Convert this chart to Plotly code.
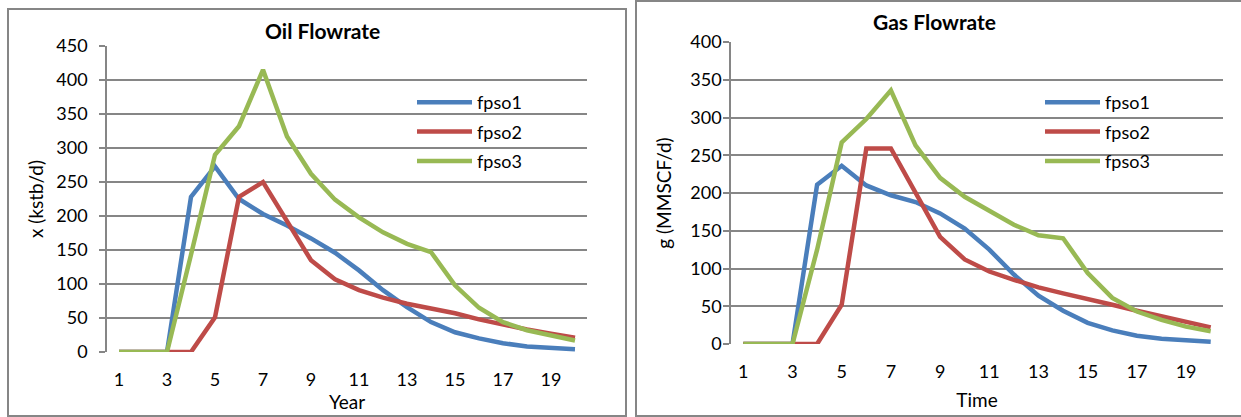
import plotly.graph_objects as go

W, H = 1241, 417

periods = list(range(1, 21))
tick_vals = [1, 3, 5, 7, 9, 11, 13, 15, 17, 19]
series_names = ["fpso1", "fpso2", "fpso3"]
series_colors = ["#4A7EBB", "#BE4B48", "#98B954"]

oil_fpso1 = [0, 0, 0, 228, 273, 225, 203, 186, 167, 146, 120, 91, 66, 44, 29, 20, 13, 8, 6, 4]
oil_fpso2 = [0, 0, 0, 0, 51, 228, 250, 193, 135, 107, 91, 80, 71, 64, 57, 48, 40, 33, 27, 21]
oil_fpso3 = [0, 0, 0, 143, 290, 332, 415, 317, 262, 224, 198, 176, 159, 147, 98, 65, 44, 32, 24, 17]

gas_fpso1 = [0, 0, 0, 211, 236, 210, 197, 188, 173, 153, 125, 92, 64, 44, 28, 18, 11, 7, 5, 3]
gas_fpso2 = [0, 0, 0, 0, 52, 259, 259, 200, 142, 112, 96, 85, 75, 67, 60, 52, 44, 37, 30, 22]
gas_fpso3 = [0, 0, 0, 125, 267, 298, 336, 263, 220, 195, 177, 158, 144, 140, 94, 61, 43, 32, 23, 17]

oil_series = [oil_fpso1, oil_fpso2, oil_fpso3]
gas_series = [gas_fpso1, gas_fpso2, gas_fpso3]

FONT = "Lato, 'Open Sans', sans-serif"
GRID = "#868686"

fig = go.Figure()

for name, col, ys in zip(series_names, series_colors, oil_series):
    fig.add_trace(go.Scatter(x=periods, y=ys, name=name, mode="lines",
                             line=dict(color=col, width=4.5), xaxis="x", yaxis="y",
                             legend="legend", legendgroup="o" + name))
for name, col, ys in zip(series_names, series_colors, gas_series):
    fig.add_trace(go.Scatter(x=periods, y=ys, name=name, mode="lines",
                             line=dict(color=col, width=4.5), xaxis="x2", yaxis="y2",
                             legend="legend2", legendgroup="g" + name))

def px_x(p):
    return p / W

def px_y(p):
    return 1 - p / H

tickfont = dict(family=FONT, size=18, color="#000")
titlefont = dict(family=FONT, size=19, color="#000")

xcommon = dict(range=[0.5, 20.5], tickvals=tick_vals, showgrid=False, zeroline=False,
               showline=False, ticks="", tickfont=tickfont,
               ticklabelstandoff=15, fixedrange=True)
ycommon = dict(showgrid=True, gridcolor=GRID, gridwidth=1.6, zeroline=False,
               showline=True, linecolor=GRID, linewidth=1.6, ticks="outside",
               ticklen=6, tickcolor=GRID, tickwidth=1.6, tickfont=tickfont,
               fixedrange=True)

legend_common = dict(xanchor="left", yanchor="top", font=dict(family=FONT, size=18, color="#000"),
                     tracegroupgap=3, itemwidth=55, bgcolor="rgba(0,0,0,0)")

fig.update_layout(
    width=W, height=H, margin=dict(l=0, r=0, t=0, b=0, autoexpand=False),
    paper_bgcolor="white", plot_bgcolor="white",
    font=dict(family=FONT, color="#000"),
    xaxis=dict(domain=[px_x(107), px_x(587)], anchor="y",
               title=dict(text="Year", standoff=3, font=titlefont), **xcommon),
    yaxis=dict(domain=[px_y(352), px_y(46)], anchor="x", range=[0, 450], dtick=50,
               ticklabelstandoff=8,
               title=dict(text="x (kstb/d)", standoff=8, font=titlefont), **ycommon),
    xaxis2=dict(domain=[px_x(731), px_x(1223)], anchor="y2",
                title=dict(text="Time", standoff=12, font=titlefont), **xcommon),
    yaxis2=dict(domain=[px_y(344), px_y(42)], anchor="x2", range=[0, 400], dtick=50,
                ticklabelstandoff=-2,
                title=dict(text="g (MMSCF/d)", standoff=14, font=titlefont), **ycommon),
    legend=dict(x=px_x(412), y=px_y(84), **legend_common),
    legend2=dict(x=px_x(1040), y=px_y(84), **legend_common),
    showlegend=True,
    annotations=[
        dict(text="<b>Oil Flowrate</b>", x=px_x(322), y=px_y(31), xref="paper", yref="paper",
             xanchor="center", yanchor="middle", showarrow=False,
             font=dict(family=FONT, size=21, color="#000")),
        dict(text="<b>Gas Flowrate</b>", x=px_x(934), y=px_y(21), xref="paper", yref="paper",
             xanchor="center", yanchor="middle", showarrow=False,
             font=dict(family=FONT, size=21, color="#000")),
    ],
    shapes=[
        dict(type="rect", xref="paper", yref="paper", x0=px_x(8), x1=px_x(626),
             y0=px_y(416), y1=px_y(9), line=dict(color=GRID, width=2)),
        dict(type="rect", xref="paper", yref="paper", x0=px_x(636), x1=px_x(1245),
             y0=px_y(416), y1=px_y(1), line=dict(color=GRID, width=2)),
    ],
)

fig.write_html("out.html")
